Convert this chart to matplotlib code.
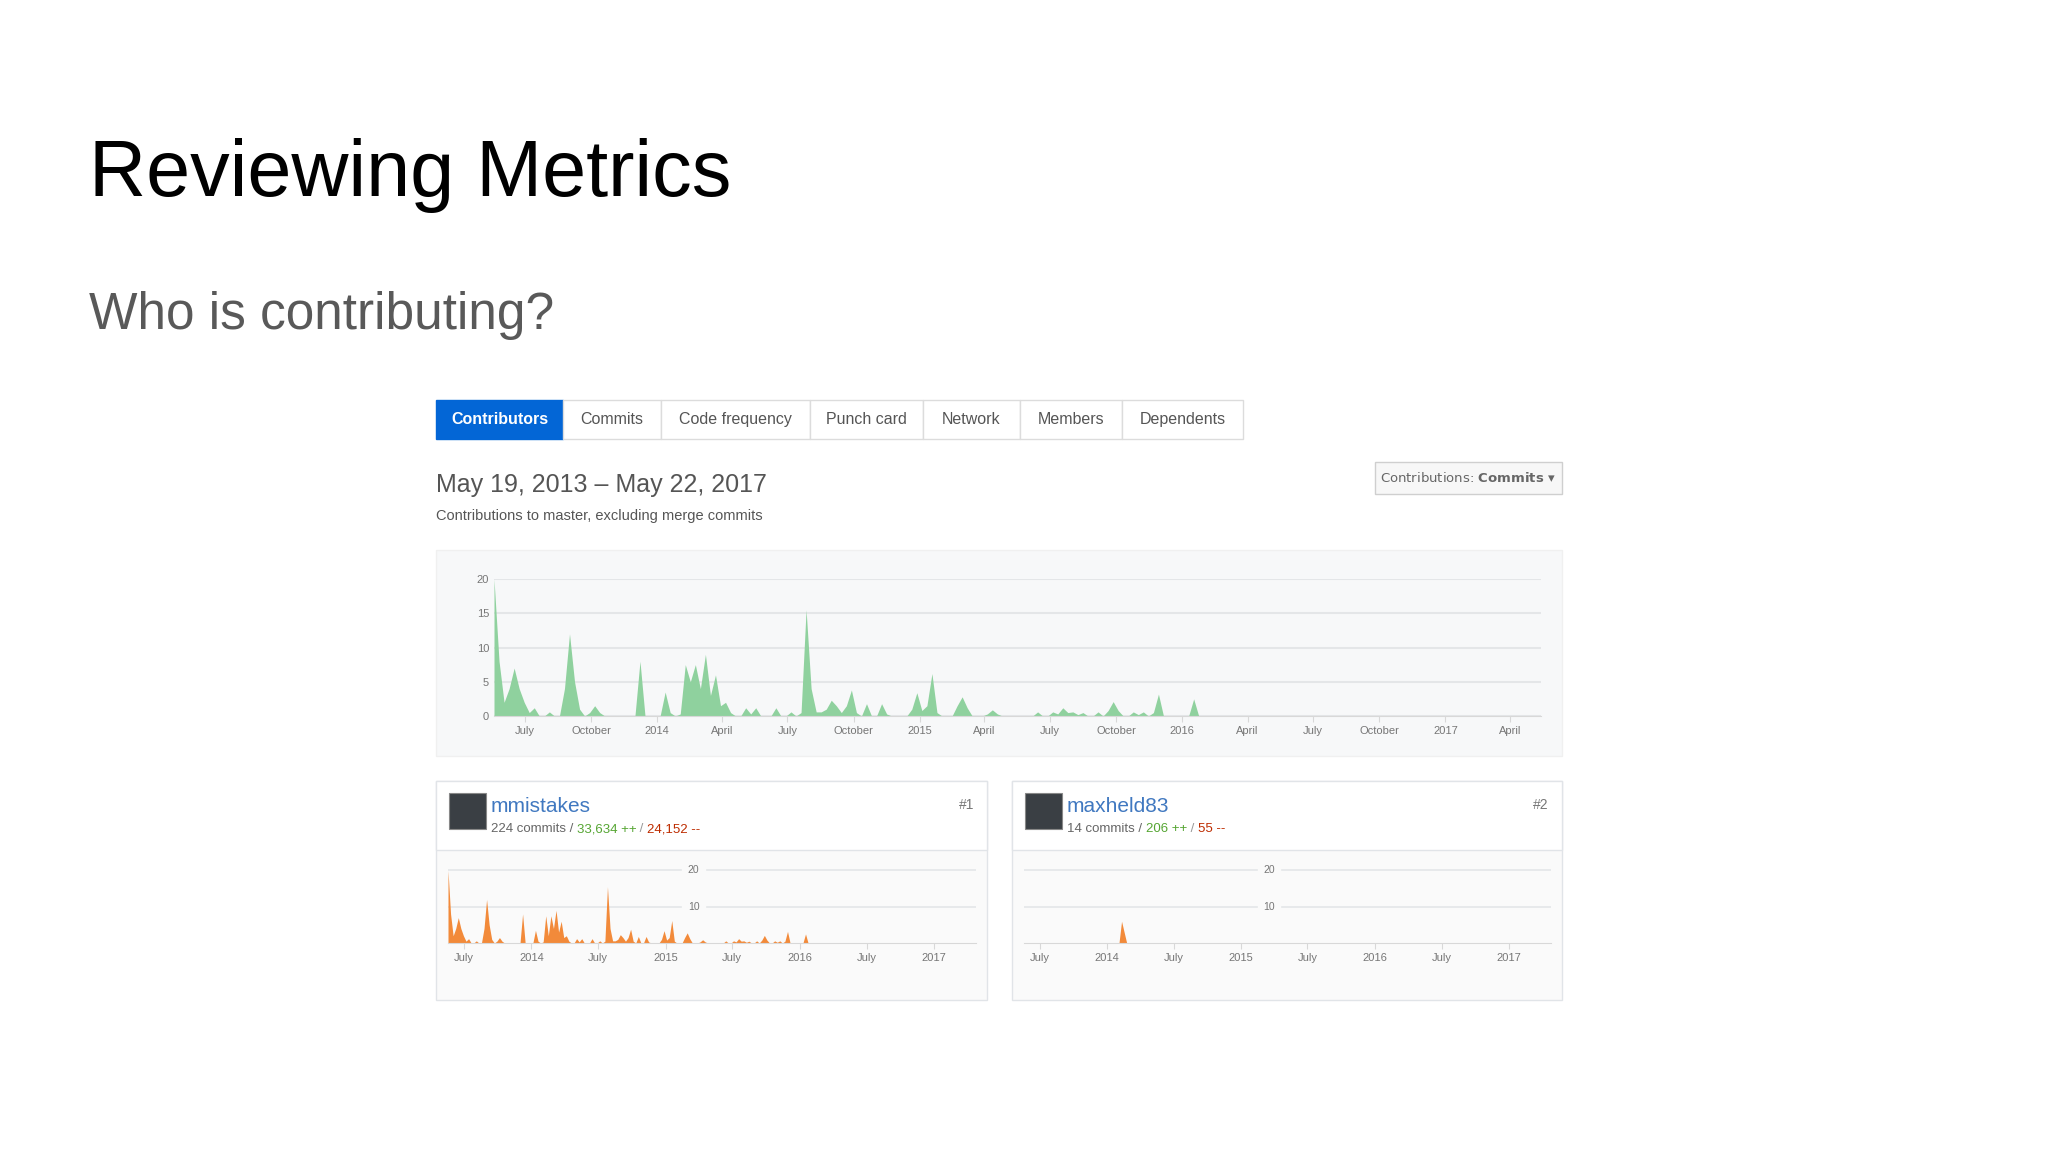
import datetime as dt

import matplotlib.dates as mdates
import matplotlib.pyplot as plt
from matplotlib.patches import Rectangle

plt.rcParams["font.family"] = ["Liberation Sans", "DejaVu Sans"]

W, H = 2048, 1152

# weekly commits, all contributors, starting 2013-05-19
total_commits = [
    20, 8, 2, 4, 7, 4, 2, 0.5, 1.2, 0, 0, 0.6, 0, 0, 4, 12, 5, 1, 0, 0.5,
    1.5, 0.5, 0, 0, 0, 0, 0, 0, 0, 8, 0, 0, 0, 0, 3.5, 0.5, 0, 0.3, 7.5, 5,
    7.5, 4, 9, 3, 6, 1.5, 2, 0.5, 0, 0, 1.2, 0.3, 1.2, 0, 0, 0, 1.2, 0, 0, 0.6,
    0, 0.5, 15.5, 4, 0.6, 0.6, 1, 2.3, 1.5, 0.5, 1.5, 3.8, 0.5, 0, 1.8, 0, 0, 1.8, 0.3, 0,
    0, 0, 0, 1, 3.4, 0.8, 1.5, 6.2, 0.5, 0, 0, 0, 1.5, 2.8, 1.2, 0, 0, 0, 0.3, 0.9,
    0.3, 0, 0, 0, 0, 0, 0, 0, 0.6, 0, 0, 0.6, 0.3, 1.2, 0.5, 0.6, 0.2, 0.5, 0, 0,
    0.6, 0, 0.8, 2.1, 0.8, 0, 0, 0.6, 0.2, 0.6, 0, 0.5, 3.2, 0, 0, 0, 0, 0, 0, 2.5,
    0, 0,
]
# maxheld83 only contributed around week 38
maxheld_commits = [0] * len(total_commits)
maxheld_commits[38] = 6
maxheld_commits[39] = 3
mmistakes_commits = [t - m for t, m in zip(total_commits, maxheld_commits)]
mmistakes_commits[38] = 7.5

start = dt.date(2013, 5, 19)
weeks = [start + dt.timedelta(weeks=i) for i in range(len(total_commits))]

cards = [
    ("mmistakes", "#1", "224 commits", "33,634 ++", "24,152 --", mmistakes_commits),
    ("maxheld83", "#2", "14 commits", "206 ++", "55 --", maxheld_commits),
]
tabs = ["Contributors", "Commits", "Code frequency", "Punch card", "Network", "Members", "Dependents"]
tab_edges = [436, 563, 661, 810, 923, 1020, 1122, 1243]

GREEN = "#8fd19e"
ORANGE = "#f28a3a"
GRID = "#e4e6e8"
TICK = "#767676"


def fx(x):
    return x / W


def fy(y):
    return 1 - y / H


def add_ax(x0, y0, x1, y1):
    a = fig.add_axes([fx(x0), fy(y1), fx(x1 - x0), (y1 - y0) / H])
    a.set_zorder(5)
    return a


def month_fmt(x, pos):
    d = mdates.num2date(x)
    if d.month == 1:
        return str(d.year)
    return d.strftime("%B")


def rect(x0, y0, x1, y1, **kw):
    fig.patches.append(Rectangle((fx(x0), fy(y1)), fx(x1 - x0), (y1 - y0) / H,
                                 transform=fig.transFigure, **kw))


fig = plt.figure(figsize=(W / 100, H / 100), dpi=100)
fig.patch.set_facecolor("white")

fig.text(fx(89), fy(196), "Reviewing Metrics", fontsize=57, color="black", va="baseline")
fig.text(fx(89), fy(329), "Who is contributing?", fontsize=37, color="#595959", va="baseline")

# tabs
for i, name in enumerate(tabs):
    x0, x1 = tab_edges[i], tab_edges[i + 1]
    active = i == 0
    rect(x0, 400, x1, 439, facecolor="#0366d6" if active else "white",
         edgecolor="#0366d6" if active else "#dcdcdc", lw=1)
    fig.text(fx((x0 + x1) / 2), fy(420), name, ha="center", va="center", fontsize=11.5,
             color="white" if active else "#555555", weight="bold" if active else "normal")

fig.text(fx(436), fy(485), "May 19, 2013 \u2013 May 22, 2017", fontsize=18, color="#555555",
         va="center")
fig.text(fx(436), fy(516), "Contributions to master, excluding merge commits", fontsize=10.5,
         color="#555555", va="center")

rect(1375, 462, 1562, 494, facecolor="#f7f7f7", edgecolor="#cfcfcf", lw=1)
fig.text(fx(1468), fy(478), "Contributions: $\\bf{Commits}$ \u25be", ha="center", va="center",
         fontsize=9.5, color="#666666", family=["DejaVu Sans"])

# main panel
rect(436, 550, 1562, 756, facecolor="#f7f8f9", edgecolor="#f0f0f0", lw=1)
ax = add_ax(494, 579, 1541, 716)
ax.fill_between(weeks, total_commits, color=GREEN, lw=0)
ax.set_xlim(dt.date(2013, 5, 19), dt.date(2017, 5, 14))
ax.set_ylim(0, 20)
ax.set_yticks([0, 5, 10, 15, 20])
ax.xaxis.set_major_locator(mdates.MonthLocator(bymonth=[1, 4, 7, 10]))
ax.xaxis.set_major_formatter(plt.FuncFormatter(month_fmt))
ax.grid(axis="y", color=GRID, lw=1.5)
ax.set_axisbelow(True)
ax.set_facecolor("none")
for s in ax.spines.values():
    s.set_visible(False)
ax.spines["bottom"].set_visible(True)
ax.spines["bottom"].set_color("#d8d8d8")
ax.tick_params(colors=TICK, labelsize=8, length=4, width=0.8)
ax.tick_params(axis="y", length=0)
ax.tick_params(axis="x", color="#d8d8d8", labelcolor=TICK)

# contributor cards
card_x = [(436, 987), (1012, 1562)]
for (name, rank, commits, plus, minus, data), (cx0, cx1) in zip(cards, card_x):
    rect(cx0, 781, cx1, 1000, facecolor="#fafafa", edgecolor="#e1e4e8", lw=1)
    rect(cx0, 781, cx1, 850, facecolor="white", edgecolor="#e1e4e8", lw=1)
    rect(cx0 + 13, 793, cx0 + 50, 829, facecolor="#3a3f44", edgecolor="#888888", lw=0.8)
    fig.text(fx(cx0 + 55), fy(806), name, fontsize=15, color="#4078c0", va="center")
    t = fig.text(fx(cx0 + 55), fy(829), commits + " / ", fontsize=9.5, color="#666666",
                 va="center")
    fig.canvas.draw()
    bb = t.get_window_extent()
    t2 = fig.text(bb.x1 / W, fy(829), plus, fontsize=9.5, color="#55a532", va="center")
    bb2 = t2.get_window_extent()
    t3 = fig.text(bb2.x1 / W, fy(829), " / ", fontsize=9.5, color="#999999", va="center")
    bb3 = t3.get_window_extent()
    fig.text(bb3.x1 / W, fy(829), minus, fontsize=9.5, color="#bd2c00", va="center")
    fig.text(fx(cx1 - 13), fy(805), rank, fontsize=10, color="#777777", ha="right",
             va="center")

    sax = add_ax(cx0 + 12, 865, cx1 - 11, 943)
    sax.fill_between(weeks, data, color=ORANGE, lw=0)
    sax.set_xlim(dt.date(2013, 5, 19), dt.date(2017, 4, 25))
    sax.set_ylim(0, 21.5)
    sax.set_yticks([10, 20])
    sax.set_yticklabels([])
    sax.grid(axis="y", color=GRID, lw=1.2)
    sax.set_axisbelow(True)
    sax.set_facecolor("none")
    for yv in [10, 20]:
        sax.text(0.465, yv, str(yv), transform=sax.get_yaxis_transform(), ha="center",
                 va="center", fontsize=7.5, color=TICK, backgroundcolor="#fafafa")
    sax.xaxis.set_major_locator(mdates.MonthLocator(bymonth=[1, 7]))
    sax.xaxis.set_major_formatter(plt.FuncFormatter(month_fmt))
    for s in sax.spines.values():
        s.set_visible(False)
    sax.spines["bottom"].set_visible(True)
    sax.spines["bottom"].set_color("#d8d8d8")
    sax.tick_params(axis="y", length=0)
    sax.tick_params(axis="x", labelsize=8, length=4, color="#d8d8d8", labelcolor=TICK)

fig.savefig("out.png", dpi=100)
